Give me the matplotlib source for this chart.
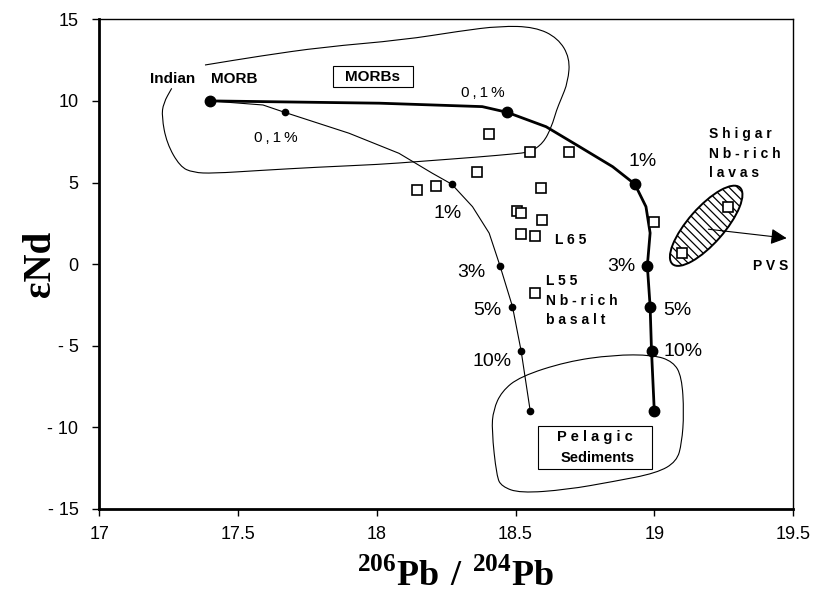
import matplotlib
matplotlib.use('Agg')
import matplotlib.pyplot as plt
import matplotlib.transforms as mtransforms
from matplotlib.patches import Ellipse, PathPatch, Rectangle
from matplotlib.path import Path
import numpy as np

plt.rcParams['font.family'] = ['Liberation Sans', 'DejaVu Sans']
plt.rcParams['mathtext.fontset'] = 'custom'
plt.rcParams['mathtext.rm'] = 'Liberation Serif'
plt.rcParams['mathtext.bf'] = 'Liberation Serif:bold'
plt.rcParams['hatch.linewidth'] = 0.9

# --- mixing curves: MORB -> sediment, marks at 0 / 0.1 / 1 / 3 / 5 / 10 % / end
mark_y = [10.0, 9.3, 4.9, -0.1, -2.6, -5.3, -9.0]
bold_mark_x = [17.40, 18.47, 18.93, 18.975, 18.985, 18.99, 19.0]
thin_mark_x = [17.40, 17.668, 18.27, 18.444, 18.489, 18.52, 18.553]

# traced curve paths
bold_path_x = [17.40, 18.01, 18.38, 18.47, 18.61, 18.73, 18.85, 18.93, 18.97,
               18.985, 18.975, 18.985, 18.99, 19.0]
bold_path_y = [10.0, 9.86, 9.65, 9.3, 8.42, 7.20, 5.97, 4.9, 3.52,
               1.91, -0.1, -2.6, -5.3, -9.0]
thin_path_x = [17.40, 17.59, 17.668, 17.90, 18.08, 18.20, 18.27, 18.345,
               18.405, 18.444, 18.489, 18.52, 18.553]
thin_path_y = [10.0, 9.75, 9.3, 8.02, 6.79, 5.57, 4.9, 3.52,
               1.90, -0.1, -2.6, -5.3, -9.0]

# samples (open squares)
samp_x = [18.405, 18.552, 18.693, 18.361, 18.145, 18.214, 18.59, 18.507, 18.52,
          18.597, 18.52, 18.571, 18.571, 18.999, 19.266, 19.10]
samp_y = [7.96, 6.86, 6.86, 5.65, 4.55, 4.79, 4.65, 3.26, 3.12,
          2.71, 1.83, 1.73, -1.74, 2.61, 3.49, 0.67]

# fields
morb_x = [17.381, 17.579, 17.806, 18.094, 18.300, 18.444, 18.570, 18.653, 18.696,
          18.689, 18.663, 18.648, 18.630, 18.600, 18.552, 18.491, 18.372, 18.145,
          18.012, 17.785, 17.579, 17.410, 17.338, 17.291, 17.243, 17.225, 17.231, 17.261]
morb_y = [12.20, 12.75, 13.30, 13.73, 14.28, 14.59, 14.53, 13.85, 12.63,
          11.16, 10.06, 9.45, 8.42, 7.41, 6.86, 6.75, 6.57, 6.28,
          6.11, 5.94, 5.74, 5.56, 5.61, 5.97, 7.41, 9.04, 9.86, 10.77]
pel_x = [18.450, 18.516, 18.684, 18.852, 18.996, 19.068, 19.099, 19.107, 19.099,
         19.081, 19.009, 18.852, 18.684, 18.516, 18.450, 18.432, 18.414, 18.420]
pel_y = [-7.80, -6.89, -5.97, -5.56, -5.56, -5.97, -6.89, -9.13, -10.96,
         -12.09, -12.80, -13.32, -13.82, -14.03, -13.62, -13.01, -10.15, -8.93]

shigar_centre = (19.187, 2.35)
pvs_arrow = [(19.195, 2.14), (19.477, 1.59)]

xticks = [17, 17.5, 18, 18.5, 19, 19.5]
xtick_labels = ['17', '17.5', '18', '18.5', '19', '19.5']
yticks = [15, 10, 5, 0, -5, -10, -15]
ytick_labels = ['15', '10', '5', '0', '- 5', '- 10', '- 15']

fig = plt.figure(figsize=(8.19, 6.01), dpi=100)
ax = fig.add_axes([0.1212, 0.1531, 0.8471, 0.8148])
ax.set_xlim(17, 19.5)
ax.set_ylim(-15, 15)


def smooth_closed(xs, ys):
    # closed outline as a chain of quadratic beziers through the midpoints
    pts = np.column_stack([xs, ys])
    mids = (pts + np.roll(pts, -1, axis=0)) / 2
    verts = [mids[-1]]
    codes = [Path.MOVETO]
    for i in range(len(pts)):
        verts += [pts[i], mids[i]]
        codes += [Path.CURVE3, Path.CURVE3]
    return Path(verts, codes)


def smooth_open(xs, ys):
    pts = np.column_stack([xs, ys])
    mids = (pts[:-1] + pts[1:]) / 2
    verts = [pts[0], mids[0]]
    codes = [Path.MOVETO, Path.LINETO]
    for i in range(1, len(pts) - 1):
        verts += [pts[i], mids[i]]
        codes += [Path.CURVE3, Path.CURVE3]
    verts.append(pts[-1])
    codes.append(Path.LINETO)
    return Path(verts, codes)


ax.add_patch(PathPatch(smooth_open(morb_x, morb_y), fill=False, lw=0.8, color='black'))
ax.add_patch(PathPatch(smooth_closed(pel_x, pel_y), fill=False, lw=0.8, color='black'))

# mixing curves
ax.plot(bold_path_x, bold_path_y, color='black', lw=2.0, zorder=3)
ax.plot(thin_path_x, thin_path_y, color='black', lw=0.8, zorder=3)
ax.plot(bold_mark_x, mark_y, 'o', color='black', ms=7.5, zorder=4)
ax.plot(thin_mark_x[1:], mark_y[1:], 'o', color='black', ms=4.5, zorder=4)

# Shigar ellipse
trans = fig.dpi_scale_trans + mtransforms.ScaledTranslation(
    shigar_centre[0], shigar_centre[1], ax.transData)
ax.add_patch(Ellipse((0, 0), 1.02, 0.36, angle=48.7, transform=trans,
                     facecolor='white', edgecolor='black', lw=1.4, hatch='\\\\\\\\', zorder=2))
ax.annotate('', xy=pvs_arrow[1], xytext=pvs_arrow[0],
            arrowprops=dict(arrowstyle='-|>', color='black', lw=0.8,
                            mutation_scale=24, shrinkA=0, shrinkB=0), zorder=5)

ax.plot(samp_x, samp_y, 's', mfc='white', mec='black', mew=1.2, ms=6.5, zorder=6)

# labels
ax.text(17.264, 11.37, 'Indian', fontsize=11, fontweight='bold', ha='center', va='center')
ax.text(17.485, 11.37, 'MORB', fontsize=11, fontweight='bold', ha='center', va='center')
ax.add_patch(Rectangle((17.843, 10.84), 0.286, 1.30, fc='white', ec='black', lw=0.8, zorder=5))
ax.text(17.986, 11.47, 'MORBs', fontsize=11, fontweight='bold', ha='center', va='center', zorder=6)
ts = '\u2009'
ax.text(17.637, 7.71, '0' + ts + ',' + ts + '1' + ts + '%', fontsize=11, ha='center', va='center')
ax.text(18.381, 10.50, '0' + ts + ',' + ts + '1' + ts + '%', fontsize=11, ha='center', va='center')
pct = [('1%', 18.255, 3.08), ('1%', 18.957, 6.28), ('3%', 18.342, -0.52), ('3%', 18.88, -0.15),
       ('5%', 18.40, -2.84), ('5%', 19.082, -2.84), ('10%', 18.417, -5.97), ('10%', 19.104, -5.36)]
for s, x, y in pct:
    ax.text(x, y, s, fontsize=14, ha='center', va='center')

ax.text(18.70, 1.48, 'L 6 5', fontsize=10, fontweight='bold', ha='center', va='center')
ax.text(18.61, -2.23, 'L 5 5\nN b - r i c h\nb a s a l t', fontsize=10, fontweight='bold',
        ha='left', va='center', linespacing=1.5)
ax.text(19.197, 6.75, 'S h i g a r\nN b - r i c h\nl a v a s', fontsize=10, fontweight='bold',
        ha='left', va='center', linespacing=1.5)
ax.text(19.42, -0.11, 'P V S', fontsize=10, fontweight='bold', ha='center', va='center')
ax.add_patch(Rectangle((18.58, -12.56), 0.41, 2.66, fc='white', ec='black', lw=0.8, zorder=5))
ax.text(18.785, -10.60, 'P e l a g i c', fontsize=10.5, fontweight='bold',
        ha='center', va='center', zorder=6)
ax.text(18.797, -11.88, 'Sediments', fontsize=10.5, fontweight='bold',
        ha='center', va='center', zorder=6)

# axes styling
ax.set_xticks(xticks)
ax.set_xticklabels(xtick_labels)
ax.set_yticks(yticks)
ax.set_yticklabels(ytick_labels)
ax.tick_params(direction='out', length=5, width=1, labelsize=13, pad=7)
ax.tick_params(axis='y', pad=10)
for side in ['left', 'bottom']:
    ax.spines[side].set_linewidth(2.0)
for side in ['top', 'right']:
    ax.spines[side].set_linewidth(1.0)

fig.text(0.05, 1 - 264 / 601, '\u03b5Nd', family='Liberation Serif', fontweight='bold',
         fontsize=28, rotation=90, ha='center', va='center')
fig.text(455 / 819, 1 - 576 / 601, r'$^{\mathbf{206}}\mathbf{Pb\ /\ }^{\mathbf{204}}\mathbf{Pb}$',
         fontsize=26, ha='center', va='center')

fig.savefig('out.png', dpi=100)
